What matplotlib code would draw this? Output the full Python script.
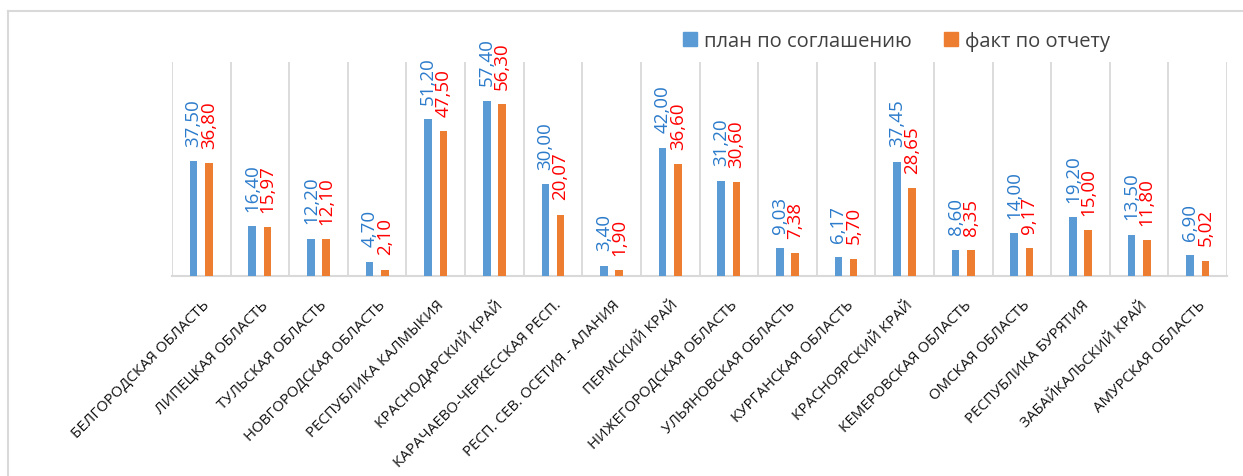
import numpy as np
import matplotlib
matplotlib.use('Agg')
import matplotlib.pyplot as plt
import matplotlib.transforms as mtransforms
from matplotlib.lines import Line2D
from matplotlib.patches import Patch

plt.rcParams['font.family'] = ['Open Sans', 'DejaVu Sans']

# Data
regions = ['Белгородская область', 'Липецкая область', 'Тульская область',
           'Новгородская область', 'Республика Калмыкия', 'Краснодарский край',
           'Карачаево-Черкесская Респ.', 'Респ. Сев. Осетия - Алания', 'Пермский край',
           'Нижегородская область', 'Ульяновская область', 'Курганская область',
           'Красноярский край', 'Кемеровская область', 'Омская область',
           'Республика Бурятия', 'Забайкальский край', 'Амурская область']
plan = [37.50, 16.40, 12.20, 4.70, 51.20, 57.40, 30.00, 3.40, 42.00,
        31.20, 9.03, 6.17, 37.45, 8.60, 14.00, 19.20, 13.50, 6.90]
fact = [36.80, 15.97, 12.10, 2.10, 47.50, 56.30, 20.07, 1.90, 36.60,
        30.60, 7.38, 5.70, 28.65, 8.35, 9.17, 15.00, 11.80, 5.02]
series_names = ['план по соглашению', 'факт по отчету']

blue = '#5B9BD5'
orange = '#ED7D31'
blue_txt = '#2B7BCB'
red_txt = '#FF0000'
grid_col = '#D9D9D9'

W, H = 1243, 477
fig = plt.figure(figsize=(W / 100, H / 100), dpi=100)
ax = fig.add_axes([172 / W, 1 - 277 / H, (1227 - 172) / W, (277 - 63) / H])

x = np.arange(len(regions))
bw = 0.13
b1 = ax.bar(x - bw, plan, bw, color=blue, zorder=3)
b2 = ax.bar(x + bw, fact, bw, color=orange, zorder=3)

def fmt(v):
    return f'{v:.2f}'.replace('.', ',')

for rect, v in zip(b1, plan):
    ax.annotate(fmt(v), (rect.get_x() + rect.get_width() / 2, v),
                xytext=(0, 11), textcoords='offset points', rotation=90,
                ha='center', va='bottom', color=blue_txt, fontsize=13.5,
                annotation_clip=False)
for rect, v in zip(b2, fact):
    ax.annotate(fmt(v), (rect.get_x() + rect.get_width() / 2, v),
                xytext=(0, 11), textcoords='offset points', rotation=90,
                ha='center', va='bottom', color=red_txt, fontsize=13.5,
                annotation_clip=False)

ax.set_xlim(-0.5, len(regions) - 0.5)
ax.set_ylim(0, 70)
ax.set_yticks([])
ax.set_xticks(np.arange(-0.5, len(regions), 1), minor=True)
ax.grid(which='minor', axis='x', color=grid_col, lw=1.3, zorder=0)
ax.tick_params(which='both', length=0)
ax.set_xticks(x)
ax.set_xticklabels([r.upper() for r in regions], rotation=45, ha='right',
                   va='center', rotation_mode='anchor', fontsize=10.8,
                   color='#111111')
ax.tick_params(axis='x', pad=19)
shift = mtransforms.ScaledTranslation(6 / 100, 0, fig.dpi_scale_trans)
for lab in ax.get_xticklabels():
    lab.set_transform(lab.get_transform() + shift)
for s in ['top', 'right', 'left']:
    ax.spines[s].set_visible(False)
ax.spines['bottom'].set_color(grid_col)
ax.spines['bottom'].set_linewidth(1.5)

handles = [Patch(color=blue), Patch(color=orange)]
fig.legend(handles, series_names, loc='center left',
           bbox_to_anchor=(683 / W, 1 - 42 / H), ncol=2, frameon=False,
           fontsize=14.5, handlelength=0.7, handleheight=0.7,
           handletextpad=0.35, columnspacing=1.6, labelcolor='#404040',
           borderaxespad=0, borderpad=0)

# outer chart frame (clipped screenshot)
fig.add_artist(Line2D([8 / W, 1], [1 - 12 / H, 1 - 12 / H],
                      transform=fig.transFigure, color=grid_col, lw=1.5))
fig.add_artist(Line2D([8 / W, 8 / W], [0, 1 - 12 / H],
                      transform=fig.transFigure, color=grid_col, lw=1.5))

fig.savefig('out.png', dpi=100)
